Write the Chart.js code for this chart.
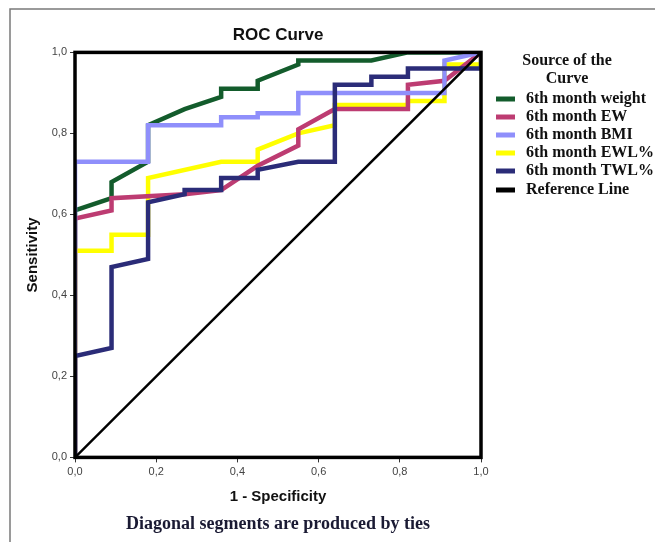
<!DOCTYPE html>
<html>
<head>
<meta charset="utf-8">
<title>ROC Curve</title>
<script src="https://cdn.jsdelivr.net/npm/chart.js@4/dist/chart.umd.min.js"></script>
<style>
  body { margin: 0; background: #fff; }
  canvas { display: block; }
</style>
</head>
<body>
<canvas id="rocChart" width="655" height="542"></canvas>
<script>
// Axis ticks (shared by both axes)
const tickValues = [0, 0.2, 0.4, 0.6, 0.8, 1.0];

// Series: 1 - specificity (x) and sensitivity (y)
const weightFpr = [0, 0, 0.09, 0.09, 0.18, 0.18, 0.27, 0.36, 0.36, 0.45, 0.45, 0.55, 0.55, 0.73, 0.82, 1];
const weightSens = [0, 0.61, 0.64, 0.68, 0.73, 0.82, 0.86, 0.89, 0.91, 0.91, 0.93, 0.97, 0.98, 0.98, 1, 1];

const ewFpr = [0, 0, 0.09, 0.09, 0.27, 0.36, 0.45, 0.55, 0.55, 0.64, 0.82, 0.82, 0.91, 1];
const ewSens = [0, 0.59, 0.61, 0.64, 0.65, 0.66, 0.72, 0.77, 0.81, 0.86, 0.86, 0.92, 0.93, 1];

const bmiFpr = [0, 0, 0.18, 0.18, 0.36, 0.36, 0.45, 0.45, 0.55, 0.55, 0.91, 0.91, 1];
const bmiSens = [0, 0.73, 0.73, 0.82, 0.82, 0.84, 0.84, 0.85, 0.85, 0.9, 0.9, 0.98, 1];

const ewlFpr = [0, 0, 0.09, 0.09, 0.18, 0.18, 0.36, 0.45, 0.45, 0.55, 0.64, 0.64, 0.82, 0.82, 0.91, 0.91, 1, 1];
const ewlSens = [0, 0.51, 0.51, 0.55, 0.55, 0.69, 0.73, 0.73, 0.76, 0.8, 0.82, 0.87, 0.87, 0.88, 0.88, 0.97, 0.97, 1];

const twlFpr = [0, 0, 0.09, 0.09, 0.18, 0.18, 0.27, 0.27, 0.36, 0.36, 0.45, 0.45, 0.55, 0.64, 0.64, 0.73, 0.73, 0.82, 0.82, 1, 1];
const twlSens = [0, 0.25, 0.27, 0.47, 0.49, 0.63, 0.65, 0.66, 0.66, 0.69, 0.69, 0.71, 0.73, 0.73, 0.92, 0.92, 0.94, 0.94, 0.96, 0.96, 1];

const refFpr = [0, 1];
const refSens = [0, 1];

function toPoints(xs, ys) {
  return xs.map(function (x, i) {
    return { x: x, y: ys[i] };
  });
}

function curve(label, xs, ys, color, order, width) {
  return {
    label: label,
    data: toPoints(xs, ys),
    borderColor: color,
    backgroundColor: color,
    borderWidth: width || 4.5,
    pointRadius: 0,
    tension: 0,
    fill: false,
    order: order,
  };
}

// Gray page frame, black plot box and the side legend
const decor = {
  id: "decor",
  beforeDraw(chart) {
    const c = chart.ctx;
    c.save();
    c.strokeStyle = "#7a7a7a";
    c.lineWidth = 1.5;
    c.beginPath();
    c.moveTo(10, 542);
    c.lineTo(10, 9);
    c.lineTo(655, 9);
    c.stroke();
    c.restore();
  },
  afterDatasetsDraw(chart) {
    const a = chart.chartArea;
    const c = chart.ctx;
    c.save();
    c.strokeStyle = "#000";
    c.lineWidth = 3.5;
    c.strokeRect(a.left, a.top, a.right - a.left, a.bottom - a.top);
    c.restore();
  },
  afterDraw(chart) {
    const c = chart.ctx;
    c.save();
    c.fillStyle = "#111";
    c.font = "bold 16px 'Liberation Serif', 'Times New Roman', serif";
    c.textAlign = "center";
    c.textBaseline = "middle";
    c.fillText("Source of the", 567, 61);
    c.fillText("Curve", 567, 79);
    c.textAlign = "left";
    const rows = [99, 117, 135, 153, 171, 190];
    chart.data.datasets.forEach(function (ds, i) {
      c.strokeStyle = ds.borderColor;
      c.lineWidth = 5;
      c.beginPath();
      c.moveTo(496, rows[i]);
      c.lineTo(515, rows[i]);
      c.stroke();
      c.fillStyle = "#111";
      c.fillText(ds.label, 526, rows[i]);
    });
    c.restore();
  },
};

const ctx = document.getElementById("rocChart");
new Chart(ctx, {
  type: "line",
  data: {
    datasets: [
      curve("6th month weight", weightFpr, weightSens, "#135c2c", 5),
      curve("6th month EW", ewFpr, ewSens, "#bd3c72", 3),
      curve("6th month BMI", bmiFpr, bmiSens, "#8f8ffb", 2),
      curve("6th month EWL%", ewlFpr, ewlSens, "#ffff00", 4),
      curve("6th month TWL%", twlFpr, twlSens, "#2b2c78", 1),
      curve("Reference Line", refFpr, refSens, "#000000", 0, 2.5),
    ],
  },
  options: {
    responsive: false,
    animation: false,
    layout: {
      padding: { left: 0, right: 174, top: 0, bottom: 0 },
    },
    plugins: {
      legend: { display: false },
      tooltip: { enabled: false },
      title: {
        display: true,
        text: "ROC Curve",
        fullSize: false,
        color: "#111",
        font: { family: "'Liberation Sans', Arial, sans-serif", size: 17, weight: "bold" },
        padding: { top: 25, bottom: 7 },
      },
      subtitle: {
        display: true,
        position: "bottom",
        text: "Diagonal segments are produced by ties",
        fullSize: false,
        color: "#1a1a33",
        font: { family: "'Liberation Serif', 'Times New Roman', serif", size: 18, weight: "bold" },
        padding: { top: 0, bottom: 7 },
      },
    },
    scales: {
      x: {
        type: "linear",
        min: 0,
        max: 1,
        afterBuildTicks: function (scale) {
          scale.ticks = tickValues.map(function (v) { return { value: v }; });
        },
        afterFit: function (scale) {
          scale.height = 56;
        },
        border: { display: false },
        grid: { drawOnChartArea: false, drawTicks: true, tickLength: 5, color: "#333" },
        ticks: {
          padding: 3,
          color: "#444",
          font: { family: "'Liberation Sans', Arial, sans-serif", size: 11 },
          callback: function (value) {
            return value.toFixed(1).replace(".", ",");
          },
        },
        title: {
          display: true,
          text: "1 - Specificity",
          color: "#111",
          font: { family: "'Liberation Sans', Arial, sans-serif", size: 15, weight: "bold" },
          padding: { top: 0, bottom: 8 },
        },
      },
      y: {
        type: "linear",
        min: 0,
        max: 1,
        afterBuildTicks: function (scale) {
          scale.ticks = tickValues.map(function (v) { return { value: v }; });
        },
        afterFit: function (scale) {
          scale.width = 75;
        },
        border: { display: false },
        grid: { drawOnChartArea: false, drawTicks: true, tickLength: 5, color: "#333" },
        ticks: {
          padding: 3,
          color: "#444",
          font: { family: "'Liberation Sans', Arial, sans-serif", size: 11 },
          callback: function (value) {
            return value.toFixed(1).replace(".", ",");
          },
        },
        title: {
          display: true,
          text: "Sensitivity",
          color: "#111",
          font: { family: "'Liberation Sans', Arial, sans-serif", size: 15, weight: "bold" },
          padding: { top: 24, bottom: 0 },
        },
      },
    },
  },
  plugins: [decor],
});
</script>
</body>
</html>
